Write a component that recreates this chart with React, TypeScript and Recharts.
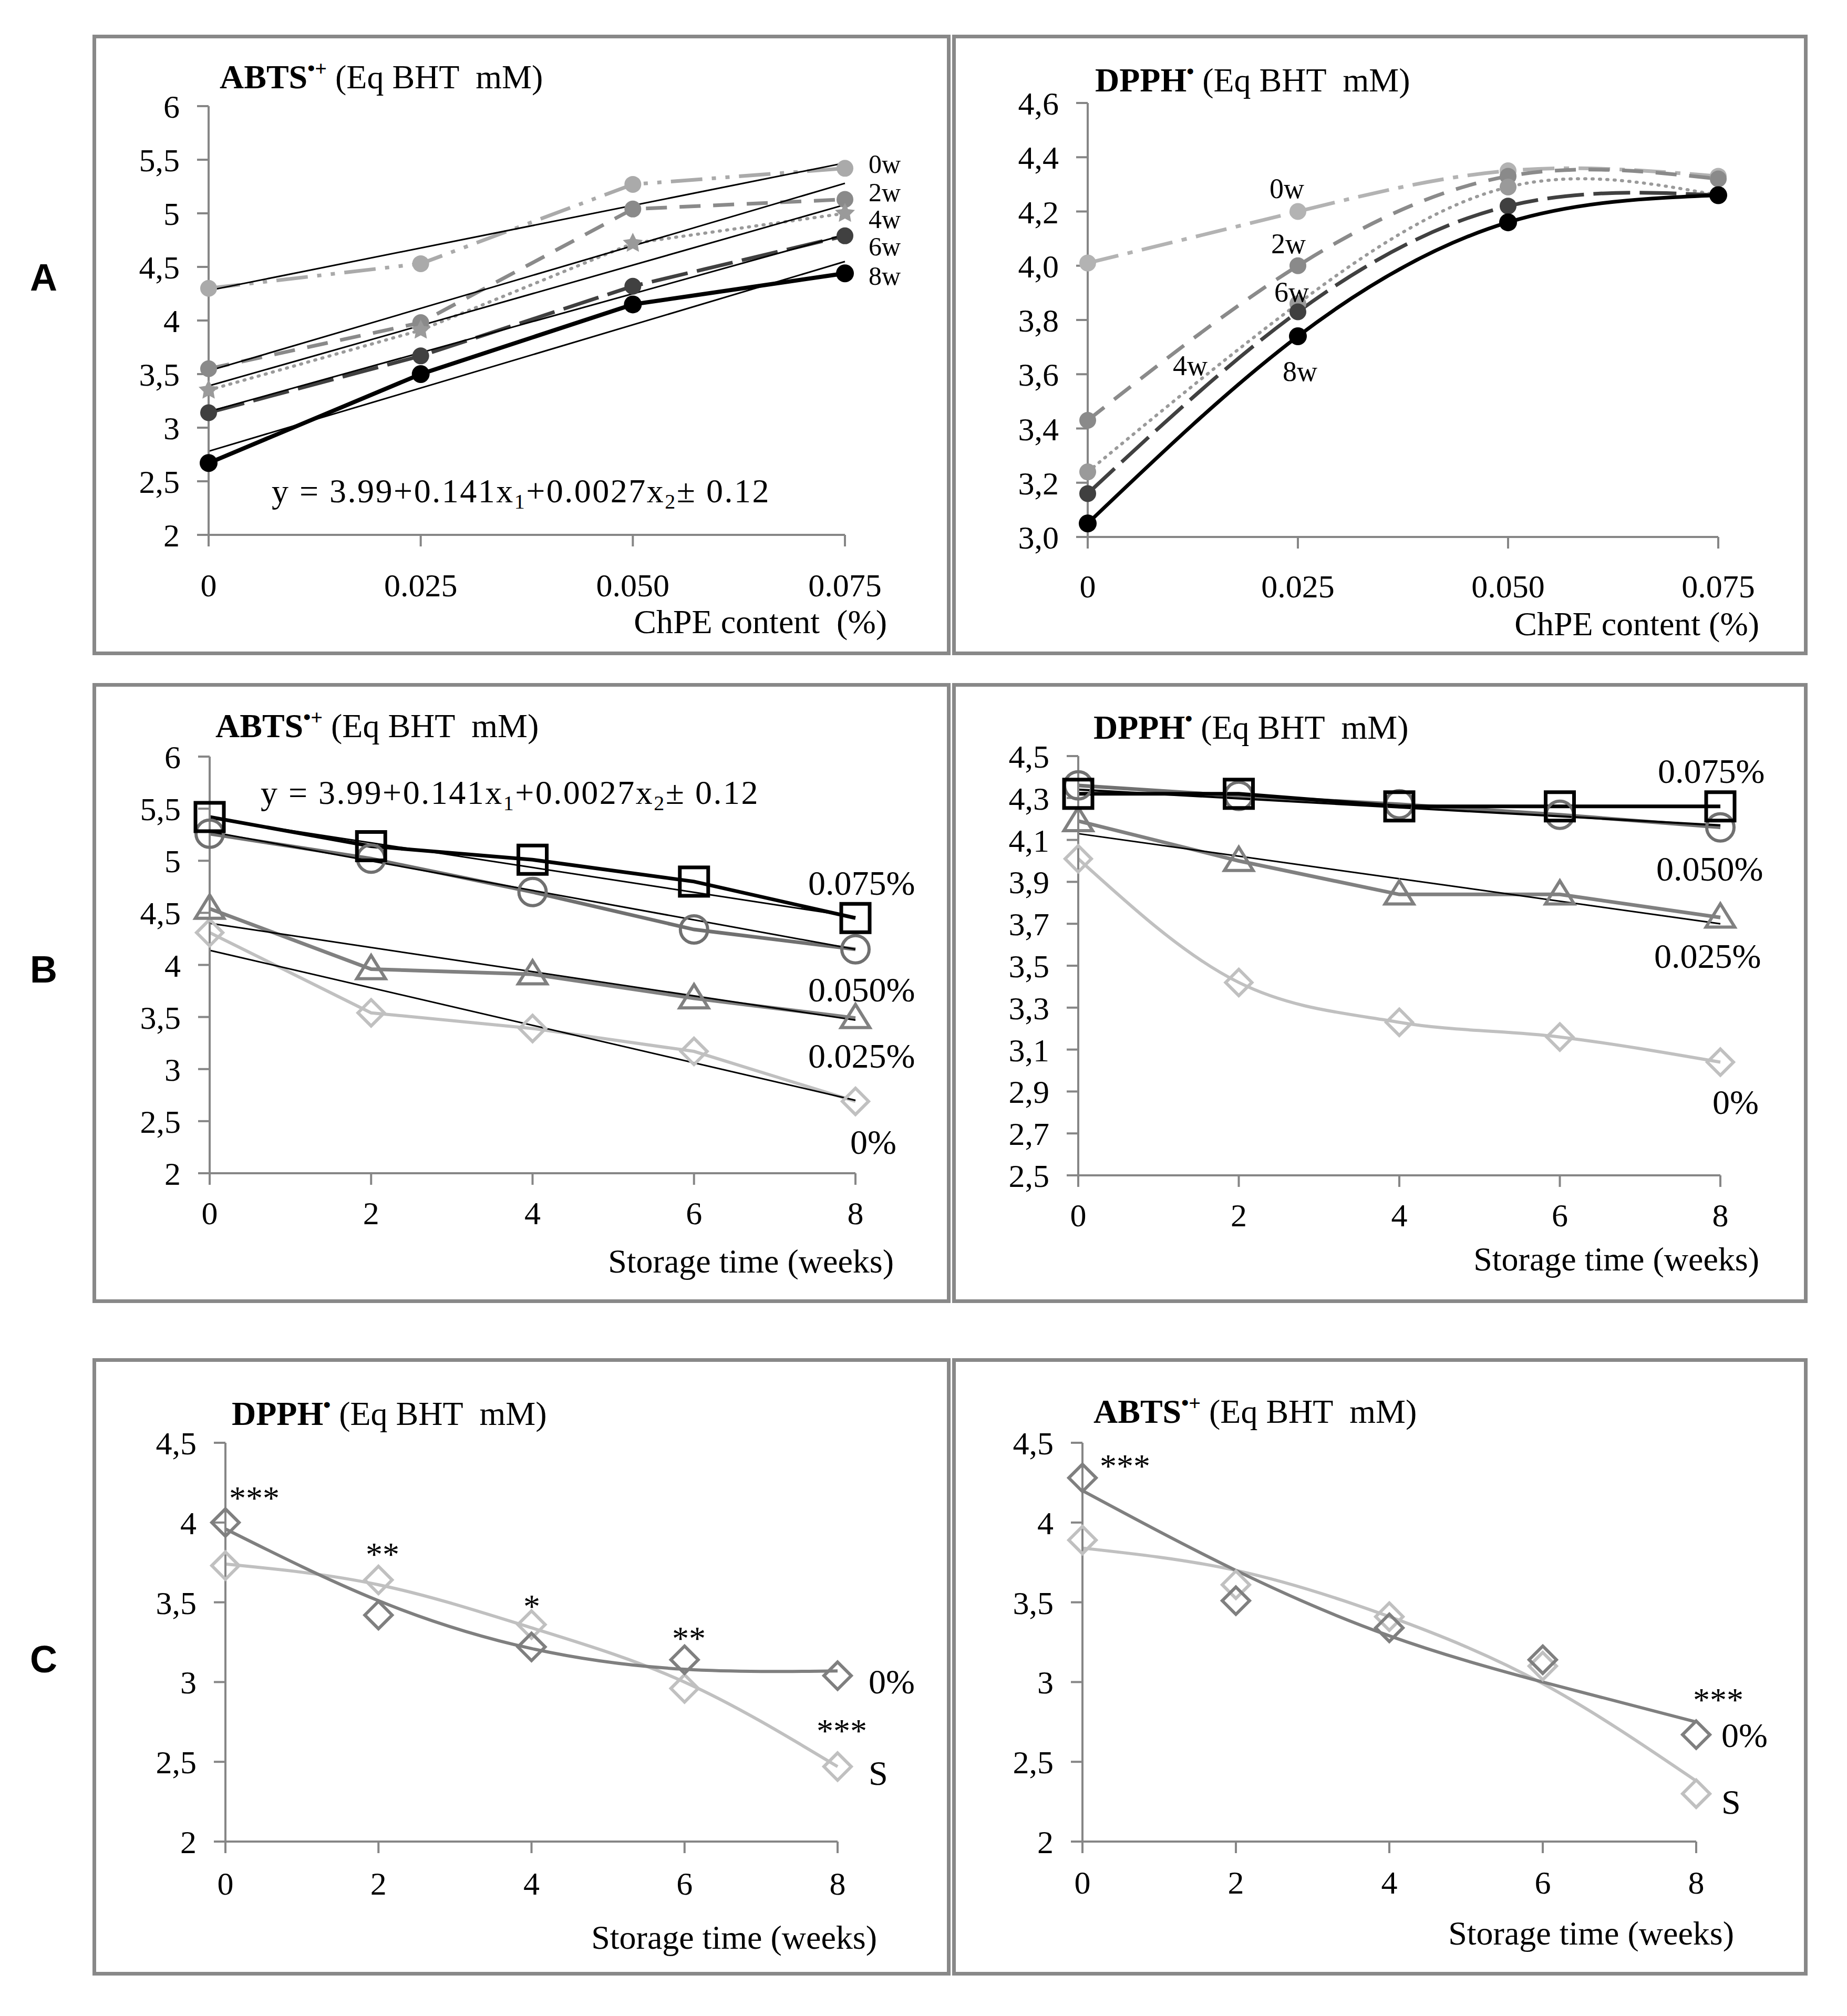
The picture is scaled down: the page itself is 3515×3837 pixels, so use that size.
import React from 'react';
import { LineChart, Line, XAxis, YAxis } from 'recharts';

const SERIF = '"Liberation Serif", "Times New Roman", serif';
const SANS = '"Liberation Sans", Arial, sans-serif';
const AXIS_GRAY = '#868686';
const XH = 150;
const YW = 200;

// ---------- Panel A : x = ChPE content (%) ----------
const chpeContent = [0, 0.025, 0.05, 0.075];
const chpeTickLabels = ['0', '0.025', '0.050', '0.075'];
const fitRangeA = [0, 0.075];

const abtsYTicks = [2, 2.5, 3, 3.5, 4, 4.5, 5, 5.5, 6];
const abtsYLabels = ['2', '2,5', '3', '3,5', '4', '4,5', '5', '5,5', '6'];

const abtsA0w = [4.3, 4.53, 5.27, 5.42];
const abtsA2w = [3.55, 3.98, 5.04, 5.13];
const abtsA4w = [3.35, 3.91, 4.72, 5.0];
const abtsA6w = [3.14, 3.67, 4.32, 4.79];
const abtsA8w = [2.67, 3.5, 4.15, 4.44];
const abtsAFit0w = [4.28, 5.47];
const abtsAFit2w = [3.53, 5.28];
const abtsAFit4w = [3.39, 5.08];
const abtsAFit6w = [3.15, 4.8];
const abtsAFit8w = [2.78, 4.55];

const dpphAYTicks = [3.0, 3.2, 3.4, 3.6, 3.8, 4.0, 4.2, 4.4, 4.6];
const dpphAYLabels = ['3,0', '3,2', '3,4', '3,6', '3,8', '4,0', '4,2', '4,4', '4,6'];
const dpphA0w = [4.01, 4.2, 4.35, 4.33];
const dpphA2w = [3.43, 4.0, 4.33, 4.32];
const dpphA4w = [3.24, 3.86, 4.29, 4.26];
const dpphA6w = [3.16, 3.83, 4.22, 4.26];
const dpphA8w = [3.05, 3.74, 4.16, 4.26];

// ---------- Panel B : x = storage time (weeks) ----------
const weeks = [0, 2, 4, 6, 8];
const weekTickLabels = ['0', '2', '4', '6', '8'];
const fitRangeB = [0, 8];

const abtsB075 = [5.42, 5.14, 5.01, 4.8, 4.45];
const abtsB050 = [5.26, 5.02, 4.7, 4.34, 4.15];
const abtsB025 = [4.54, 3.96, 3.91, 3.68, 3.49];
const abtsB0 = [4.31, 3.54, 3.39, 3.17, 2.69];
const abtsBFit075 = [5.41, 4.46];
const abtsBFit050 = [5.28, 4.15];
const abtsBFit025 = [4.4, 3.47];
const abtsBFit0 = [4.14, 2.7];

const dpphBYTicks = [2.5, 2.7, 2.9, 3.1, 3.3, 3.5, 3.7, 3.9, 4.1, 4.3, 4.5];
const dpphBYLabels = ['2,5', '2,7', '2,9', '3,1', '3,3', '3,5', '3,7', '3,9', '4,1', '4,3', '4,5'];
const dpphB075 = [4.32, 4.32, 4.26, 4.26, 4.26];
const dpphB050 = [4.36, 4.31, 4.27, 4.22, 4.16];
const dpphB025 = [4.19, 4.0, 3.84, 3.84, 3.73];
const dpphB0 = [4.01, 3.42, 3.23, 3.16, 3.04];
const dpphBFit050 = [4.34, 4.17];
const dpphBFit025 = [4.13, 3.7];

// ---------- Panel C : 0% vs S ----------
const cYTicks = [2, 2.5, 3, 3.5, 4, 4.5];
const cYLabels = ['2', '2,5', '3', '3,5', '4', '4,5'];
const dpphC0 = [4.0, 3.42, 3.22, 3.14, 3.04];
const dpphCS = [3.73, 3.64, 3.36, 2.96, 2.47];
const dpphCFit0 = [3.96, 3.51, 3.21, 3.08, 3.07];
const dpphCFitS = [3.74, 3.61, 3.34, 3.0, 2.47];
const abtsC0 = [4.28, 3.51, 3.34, 3.14, 2.67];
const abtsCS = [3.89, 3.61, 3.41, 3.1, 2.3];
const abtsCFit0 = [4.2, 3.7, 3.29, 3.0, 2.75];
const abtsCFitS = [3.84, 3.7, 3.41, 2.99, 2.38];

const pts = (xs: number[], ys: number[]) => xs.map((x, i) => ({ x, y: ys[i] }));

type Shape = 'circle' | 'ring' | 'square' | 'triangle' | 'diamond' | 'star';
function makeDot(shape: Shape, color: string, size: number, sw = 0) {
  return (p: any) => {
    const { cx, cy, index } = p;
    const key = `dot-${shape}-${index}`;
    if (cx == null || cy == null) return <g key={key} />;
    const s = size;
    if (shape === 'circle') return <circle key={key} cx={cx} cy={cy} r={s} fill={color} stroke="none" />;
    if (shape === 'ring')
      return <circle key={key} cx={cx} cy={cy} r={s} fill="none" stroke={color} strokeWidth={sw} />;
    if (shape === 'square')
      return <rect key={key} x={cx - s} y={cy - s} width={2 * s} height={2 * s} fill="none" stroke={color} strokeWidth={sw} />;
    if (shape === 'triangle')
      return (
        <path key={key} d={`M${cx},${cy - s} L${cx + s * 1.05},${cy + s * 0.7} L${cx - s * 1.05},${cy + s * 0.7} Z`}
          fill="none" stroke={color} strokeWidth={sw} strokeLinejoin="miter" />
      );
    if (shape === 'diamond')
      return (
        <path key={key} d={`M${cx},${cy - s} L${cx + s},${cy} L${cx},${cy + s} L${cx - s},${cy} Z`}
          fill="none" stroke={color} strokeWidth={sw} />
      );
    let d = '';
    for (let k = 0; k < 10; k++) {
      const r = k % 2 === 0 ? s : s * 0.5;
      const a = -Math.PI / 2 + (k * Math.PI) / 5;
      d += `${k === 0 ? 'M' : 'L'}${cx + r * Math.cos(a)},${cy + r * Math.sin(a)} `;
    }
    return <path key={key} d={d + 'Z'} fill={color} stroke="none" />;
  };
}

type PanelProps = {
  box: [number, number, number, number];
  plot: [number, number, number, number];
  xDomain: [number, number];
  xTicks: number[];
  xLabels: string[];
  yDomain: [number, number];
  yTicks: number[];
  yLabels: string[];
  xTickMargin: number;
  children: React.ReactNode;
};

const labelOf = (ticks: number[], labels: string[]) => (v: number) => {
  const i = ticks.findIndex((t) => Math.abs(t - v) < 1e-9);
  return i >= 0 ? labels[i] : String(v);
};

function Panel({ box, plot, xDomain, xTicks, xLabels, yDomain, yTicks, yLabels, xTickMargin, children }: PanelProps) {
  const [bx, by, bw, bh] = box;
  const [pl, pt, pr, pb] = plot;
  const margin = { left: pl - bx - YW, top: pt - by, right: bx + bw - pr, bottom: by + bh - pb - XH };
  const tickStyle = { fill: '#000', stroke: 'none', fontSize: 62, fontFamily: SERIF };
  return (
    <>
      <div style={{ position: 'absolute', left: bx, top: by, width: bw, height: bh }}>
        <LineChart width={bw} height={bh} margin={margin}>
          <XAxis
            type="number"
            dataKey="x"
            domain={xDomain}
            ticks={xTicks}
            interval={0}
            tickFormatter={labelOf(xTicks, xLabels)}
            height={XH}
            stroke={AXIS_GRAY}
            axisLine={{ stroke: AXIS_GRAY, strokeWidth: 4 }}
            tickLine={{ stroke: AXIS_GRAY, strokeWidth: 4 }}
            tickSize={22}
            tickMargin={xTickMargin}
            tick={tickStyle}
          />
          <YAxis
            type="number"
            domain={yDomain}
            ticks={yTicks}
            interval={0}
            tickFormatter={labelOf(yTicks, yLabels)}
            width={YW}
            stroke={AXIS_GRAY}
            axisLine={{ stroke: AXIS_GRAY, strokeWidth: 4 }}
            tickLine={{ stroke: AXIS_GRAY, strokeWidth: 4 }}
            tickSize={22}
            tickMargin={33}
            tick={tickStyle}
          />
          {children}
        </LineChart>
      </div>
      <div
        style={{
          position: 'absolute', left: bx, top: by, width: bw, height: bh,
          boxSizing: 'border-box', border: '7px solid #888', pointerEvents: 'none',
        }}
      />
    </>
  );
}

const common = { dataKey: 'y', activeDot: false as const, isAnimationActive: false, legendType: 'none' as const };
const fitLine = (xs: number[], ys: number[], w = 3) => (
  <Line {...common} data={pts(xs, ys)} type="linear" stroke="#000" strokeWidth={w} dot={false} />
);

function Title({ x, y, bold, sup, rest }: { x: number; y: number; bold: string; sup: string; rest: string }) {
  return (
    <text x={x} y={y} fontFamily={SERIF} fontSize={64} fill="#000" style={{ whiteSpace: 'pre' }}>
      <tspan fontWeight="bold">{bold}</tspan>
      <tspan fontWeight="bold" fontSize={40} dy={-24}>{sup}</tspan>
      <tspan dy={24}>{rest}</tspan>
    </text>
  );
}

function T({ x, y, s = 64, anchor = 'start', children }: { x: number; y: number; s?: number; anchor?: string; children: React.ReactNode }) {
  return (
    <text x={x} y={y} fontFamily={SERIF} fontSize={s} fill="#000" textAnchor={anchor as any} style={{ whiteSpace: 'pre' }}>
      {children}
    </text>
  );
}

function Equation({ x, y }: { x: number; y: number }) {
  return (
    <text x={x} y={y} fontFamily={SERIF} fontSize={64} fill="#000" letterSpacing={2.5} style={{ whiteSpace: 'pre' }}>
      <tspan fill="#000">y = 3.99+0.141x</tspan>
      <tspan fill="#000" fontSize={40} dy={12}>1</tspan>
      <tspan fill="#000" dy={-12}>+0.0027x</tspan>
      <tspan fill="#000" fontSize={40} dy={12}>2</tspan>
      <tspan fill="#000" dy={-12}>± 0.12</tspan>
    </text>
  );
}

export default function App() {
  return (
    <div style={{ position: 'absolute', left: 0, top: 0, width: 3515, height: 3837, background: '#fff', overflow: 'hidden' }}>
      {/* A left: ABTS vs ChPE content */}
      <Panel box={[176, 66, 1633, 1181]} plot={[397, 202, 1608, 1018]} xDomain={[0, 0.075]} xTicks={chpeContent}
        xLabels={chpeTickLabels} yDomain={[2, 6]} yTicks={abtsYTicks} yLabels={abtsYLabels} xTickMargin={51}>
        <Line {...common} data={pts(chpeContent, abtsA0w)} type="linear" stroke="#aaaaaa" strokeWidth={7}
          strokeDasharray="60 18 8 18 8 18" dot={makeDot('circle', '#aaaaaa', 16)} />
        <Line {...common} data={pts(chpeContent, abtsA2w)} type="linear" stroke="#8a8a8a" strokeWidth={7}
          strokeDasharray="40 24" dot={makeDot('circle', '#8a8a8a', 16)} />
        <Line {...common} data={pts(chpeContent, abtsA4w)} type="linear" stroke="#9a9a9a" strokeWidth={6}
          strokeDasharray="2 12" strokeLinecap="round" dot={makeDot('star', '#9a9a9a', 20)} />
        <Line {...common} data={pts(chpeContent, abtsA6w)} type="linear" stroke="#404040" strokeWidth={7}
          strokeDasharray="70 18" dot={makeDot('circle', '#404040', 16)} />
        <Line {...common} data={pts(chpeContent, abtsA8w)} type="linear" stroke="#000" strokeWidth={8}
          dot={makeDot('circle', '#000', 17)} />
        {fitLine(fitRangeA, abtsAFit0w)}
        {fitLine(fitRangeA, abtsAFit2w)}
        {fitLine(fitRangeA, abtsAFit4w)}
        {fitLine(fitRangeA, abtsAFit6w)}
        {fitLine(fitRangeA, abtsAFit8w)}
      </Panel>

      {/* A right: DPPH vs ChPE content */}
      <Panel box={[1812, 66, 1628, 1181]} plot={[2070, 196, 3270, 1022]} xDomain={[0, 0.075]} xTicks={chpeContent}
        xLabels={chpeTickLabels} yDomain={[3.0, 4.6]} yTicks={dpphAYTicks} yLabels={dpphAYLabels} xTickMargin={49}>
        <Line {...common} data={pts(chpeContent, dpphA0w)} type="natural" stroke="#b3b3b3" strokeWidth={7}
          strokeDasharray="60 18 10 18" dot={makeDot('circle', '#b3b3b3', 16)} />
        <Line {...common} data={pts(chpeContent, dpphA2w)} type="natural" stroke="#8a8a8a" strokeWidth={7}
          strokeDasharray="40 24" dot={makeDot('circle', '#8a8a8a', 16)} />
        <Line {...common} data={pts(chpeContent, dpphA4w)} type="natural" stroke="#9a9a9a" strokeWidth={6}
          strokeDasharray="2 12" strokeLinecap="round" dot={makeDot('circle', '#9a9a9a', 16)} />
        <Line {...common} data={pts(chpeContent, dpphA6w)} type="natural" stroke="#404040" strokeWidth={7}
          strokeDasharray="70 18" dot={makeDot('circle', '#404040', 16)} />
        <Line {...common} data={pts(chpeContent, dpphA8w)} type="natural" stroke="#000" strokeWidth={7}
          dot={makeDot('circle', '#000', 17)} />
      </Panel>

      {/* B left: ABTS vs storage time */}
      <Panel box={[176, 1300, 1633, 1180]} plot={[399, 1440, 1628, 2233]} xDomain={[0, 8]} xTicks={weeks}
        xLabels={weekTickLabels} yDomain={[2, 6]} yTicks={abtsYTicks} yLabels={abtsYLabels} xTickMargin={31}>
        <Line {...common} data={pts(weeks, abtsB0)} type="linear" stroke="#c0c0c0" strokeWidth={6}
          dot={makeDot('diamond', '#c0c0c0', 25, 6)} />
        <Line {...common} data={pts(weeks, abtsB025)} type="linear" stroke="#808080" strokeWidth={7}
          dot={makeDot('triangle', '#808080', 26, 6)} />
        <Line {...common} data={pts(weeks, abtsB050)} type="linear" stroke="#707070" strokeWidth={7}
          dot={makeDot('ring', '#707070', 26, 6)} />
        <Line {...common} data={pts(weeks, abtsB075)} type="linear" stroke="#000" strokeWidth={7}
          dot={makeDot('square', '#000', 27, 7)} />
        {fitLine(fitRangeB, abtsBFit075)}
        {fitLine(fitRangeB, abtsBFit050)}
        {fitLine(fitRangeB, abtsBFit025)}
        {fitLine(fitRangeB, abtsBFit0)}
      </Panel>

      {/* B right: DPPH vs storage time */}
      <Panel box={[1812, 1300, 1628, 1180]} plot={[2052, 1439, 3274, 2237]} xDomain={[0, 8]} xTicks={weeks}
        xLabels={weekTickLabels} yDomain={[2.5, 4.5]} yTicks={dpphBYTicks} yLabels={dpphBYLabels} xTickMargin={31}>
        <Line {...common} data={pts(weeks, dpphB0)} type="monotone" stroke="#c0c0c0" strokeWidth={6}
          dot={makeDot('diamond', '#c0c0c0', 25, 6)} />
        <Line {...common} data={pts(weeks, dpphB025)} type="linear" stroke="#808080" strokeWidth={7}
          dot={makeDot('triangle', '#808080', 26, 6)} />
        <Line {...common} data={pts(weeks, dpphB050)} type="monotone" stroke="#707070" strokeWidth={7}
          dot={makeDot('ring', '#707070', 26, 6)} />
        {fitLine(fitRangeB, dpphBFit050, 4)}
        {fitLine(fitRangeB, dpphBFit025)}
        <Line {...common} data={pts(weeks, dpphB075)} type="linear" stroke="#000" strokeWidth={7}
          dot={makeDot('square', '#000', 27, 7)} />
      </Panel>

      {/* C left: DPPH 0% vs S */}
      <Panel box={[176, 2585, 1633, 1175]} plot={[429, 2746, 1594, 3505]} xDomain={[0, 8]} xTicks={weeks}
        xLabels={weekTickLabels} yDomain={[2, 4.5]} yTicks={cYTicks} yLabels={cYLabels} xTickMargin={35}>
        <Line {...common} data={pts(weeks, dpphCFitS)} type="natural" stroke="#c0c0c0" strokeWidth={6} dot={false} />
        <Line {...common} data={pts(weeks, dpphCFit0)} type="natural" stroke="#7f7f7f" strokeWidth={6} dot={false} />
        <Line {...common} data={pts(weeks, dpphCS)} type="linear" stroke="none" dot={makeDot('diamond', '#c0c0c0', 26, 6)} />
        <Line {...common} data={pts(weeks, dpphC0)} type="linear" stroke="none" dot={makeDot('diamond', '#7f7f7f', 26, 6)} />
      </Panel>

      {/* C right: ABTS 0% vs S */}
      <Panel box={[1812, 2585, 1628, 1175]} plot={[2060, 2746, 3228, 3505]} xDomain={[0, 8]} xTicks={weeks}
        xLabels={weekTickLabels} yDomain={[2, 4.5]} yTicks={cYTicks} yLabels={cYLabels} xTickMargin={33}>
        <Line {...common} data={pts(weeks, abtsCFitS)} type="natural" stroke="#c0c0c0" strokeWidth={6} dot={false} />
        <Line {...common} data={pts(weeks, abtsCFit0)} type="natural" stroke="#7f7f7f" strokeWidth={6} dot={false} />
        <Line {...common} data={pts(weeks, abtsCS)} type="linear" stroke="none" dot={makeDot('diamond', '#c0c0c0', 26, 6)} />
        <Line {...common} data={pts(weeks, abtsC0)} type="linear" stroke="none" dot={makeDot('diamond', '#7f7f7f', 26, 6)} />
      </Panel>

      {/* text overlay */}
      <svg width={3515} height={3837} style={{ position: 'absolute', left: 0, top: 0, pointerEvents: 'none' }}>
        <text x={83} y={553} fontFamily={SANS} fontWeight="bold" fontSize={72} textAnchor="middle" fill="#000">A</text>
        <text x={83} y={1870} fontFamily={SANS} fontWeight="bold" fontSize={72} textAnchor="middle" fill="#000">B</text>
        <text x={83} y={3183} fontFamily={SANS} fontWeight="bold" fontSize={72} textAnchor="middle" fill="#000">C</text>

        <Title x={418} y={168} bold="ABTS" sup="•+" rest=" (Eq BHT  mM)" />
        <Title x={2084} y={174} bold="DPPH" sup="•" rest=" (Eq BHT  mM)" />
        <Title x={410} y={1403} bold="ABTS" sup="•+" rest=" (Eq BHT  mM)" />
        <Title x={2081} y={1406} bold="DPPH" sup="•" rest=" (Eq BHT  mM)" />
        <Title x={441} y={2712} bold="DPPH" sup="•" rest=" (Eq BHT  mM)" />
        <Title x={2081} y={2708} bold="ABTS" sup="•+" rest=" (Eq BHT  mM)" />

        <T x={1688} y={1205} anchor="end">ChPE content  (%)</T>
        <T x={3348} y={1209} anchor="end">ChPE content (%)</T>
        <T x={1701} y={2422} anchor="end">Storage time (weeks)</T>
        <T x={3348} y={2418} anchor="end">Storage time (weeks)</T>
        <T x={1669} y={3709} anchor="end">Storage time (weeks)</T>
        <T x={3300} y={3701} anchor="end">Storage time (weeks)</T>

        <Equation x={517} y={956} />
        <Equation x={496} y={1530} />

        {/* A left series labels */}
        <T x={1653} y={329} s={50}>0w</T>
        <T x={1653} y={383} s={50}>2w</T>
        <T x={1653} y={434} s={50}>4w</T>
        <T x={1653} y={486} s={50}>6w</T>
        <T x={1653} y={542} s={50}>8w</T>
        {/* A right series labels */}
        <T x={2416} y={377} s={54}>0w</T>
        <T x={2419} y={482} s={54}>2w</T>
        <T x={2425} y={574} s={54}>6w</T>
        <T x={2232} y={714} s={54}>4w</T>
        <T x={2441} y={725} s={54}>8w</T>

        {/* B labels */}
        <T x={1538} y={1703} s={66}>0.075%</T>
        <T x={1538} y={1906} s={66}>0.050%</T>
        <T x={1538} y={2032} s={66}>0.025%</T>
        <T x={1618} y={2196} s={66}>0%</T>
        <T x={3155} y={1490} s={66}>0.075%</T>
        <T x={3152} y={1676} s={66}>0.050%</T>
        <T x={3148} y={1842} s={66}>0.025%</T>
        <T x={3259} y={2120} s={66}>0%</T>

        {/* C left annotations */}
        <T x={484} y={2873} anchor="middle">***</T>
        <T x={728} y={2980} anchor="middle">**</T>
        <T x={1012} y={3079} anchor="middle">*</T>
        <T x={1311} y={3140} anchor="middle">**</T>
        <T x={1602} y={3316} anchor="middle">***</T>
        <T x={1653} y={3223} s={66}>0%</T>
        <T x={1653} y={3397} s={66}>S</T>

        {/* C right annotations */}
        <T x={2141} y={2812} anchor="middle">***</T>
        <T x={3270} y={3257} anchor="middle">***</T>
        <T x={3276} y={3325} s={66}>0%</T>
        <T x={3276} y={3452} s={66}>S</T>
      </svg>
    </div>
  );
}
